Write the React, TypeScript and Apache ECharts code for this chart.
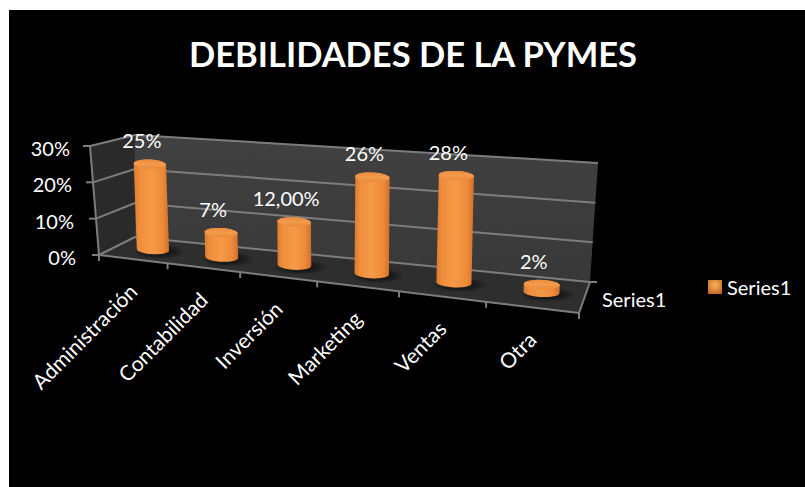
import React, { useEffect, useRef } from "react";
import * as echarts from "echarts";

const titleText = "DEBILIDADES DE LA PYMES";
const seriesName = "Series1";
const categories = ["Administración", "Contabilidad", "Inversión", "Marketing", "Ventas", "Otra"];
const shares = [0.25, 0.07, 0.12, 0.26, 0.28, 0.02];
const shareLabels = ["25%", "7%", "12,00%", "26%", "28%", "2%"];
const yMax = 0.3;
const yStep = 0.1;
const yTicks = [0, 0.1, 0.2, 0.3];
const yTickLabels = ["0%", "10%", "20%", "30%"];

// Corners of the perspective box the flat grid is projected onto.
const FLB = [99, 255];
const FRB = [579, 313];
const BLB = [135, 237];
const BRB = [590, 282];
const FLT = [90, 146];
const FRT = [582, 191];
const BLT = [135, 135];
const BRT = [598, 163];
const FORESHORTEN = 1.2;

const mix = (a: number[], b: number[], k: number) => [a[0] + (b[0] - a[0]) * k, a[1] + (b[1] - a[1]) * k];
const persp = (u: number) => u / (u + FORESHORTEN * (1 - u));

// u runs along the categories, d into the depth of the box, h up the value axis (all 0..1).
function project(u: number, d: number, h: number) {
  const t = persp(u);
  const bottom = mix(mix(FLB, FRB, t), mix(BLB, BRB, t), d);
  const top = mix(mix(FLT, FRT, t), mix(BLT, BRT, t), d);
  return mix(bottom, top, h);
}

const FONT = "Lato, Carlito, sans-serif";
const LABEL_SIZE = 20;
const SLOPE = 0.05;

function ellipsePoints(c: number[], rx: number, ry: number, from: number, to: number, n = 28) {
  const pts: number[][] = [];
  const cs = Math.cos(SLOPE);
  const sn = Math.sin(SLOPE);
  for (let i = 0; i <= n; i++) {
    const a = from + ((to - from) * i) / n;
    const x = rx * Math.cos(a);
    const y = ry * Math.sin(a);
    pts.push([c[0] + x * cs - y * sn, c[1] + x * sn + y * cs]);
  }
  return pts;
}

const gridLeft = 99;
const gridWidth = 480;
const gridTop = 147;
const gridHeight = 109;

const hGrad = (stops: [number, string][]) =>
  new echarts.graphic.LinearGradient(0, 0, 1, 0, stops.map(([offset, color]) => ({ offset, color })));
const vGrad = (stops: [number, string][]) =>
  new echarts.graphic.LinearGradient(0, 0, 0, 1, stops.map(([offset, color]) => ({ offset, color })));

const wallLine = { stroke: "#7d7d7d", lineWidth: 2 };

function line(a: number[], b: number[], style: object = wallLine) {
  return { type: "line", shape: { x1: a[0], y1: a[1], x2: b[0], y2: b[1] }, style };
}

// Walls, floor, gridlines, tick marks and tick labels of the box.
function renderFrame(params: any, api: any) {
  const cs = params.coordSys;
  const band = api.size([1, 0])[0];
  const firstCentre = api.coord([0, 0])[0];
  const children: any[] = [
    { type: "polygon", shape: { points: [FLB, BLB, BLT, FLT] }, style: { fill: "#2a2a2a" } },
    { type: "polygon", shape: { points: [BLB, BRB, BRT, BLT] }, style: { fill: vGrad([[0, "#414141"], [1, "#383838"]]) } },
    { type: "polygon", shape: { points: [FLB, FRB, BRB, BLB] }, style: { fill: "#2e2e2e" } },
  ];
  yTicks.forEach((v, i) => {
    const h = (cs.y + cs.height - api.coord([0, v])[1]) / cs.height;
    const front = project(0, 0, h);
    children.push(line(front, project(0, 1, h)));
    children.push(line(project(0, 1, h), project(1, 1, h)));
    children.push(line([front[0] - 7, front[1]], front));
    children.push({
      type: "text",
      x: front[0] - 20 - 3 * (1 - h),
      y: front[1] + 2,
      style: {
        text: yTickLabels[i],
        fill: "#fff",
        font: `${LABEL_SIZE}px ${FONT}`,
        align: "right",
        verticalAlign: "middle",
      },
    });
  });
  children.push(line(project(0, 0, 0), project(0, 0, 1)));
  children.push(line(FLB, FRB));
  children.push(line(FRB, BRB));
  children.push(line(BRB, [BRB[0] + 7, BRB[1]]));
  categories.forEach((_, i) => {
    const x = firstCentre + (i - 0.5) * band;
    const p = project((x - cs.x) / cs.width, 0, 0);
    children.push(line(p, [p[0], p[1] + 6]));
  });
  children.push(line(FRB, [FRB[0], FRB[1] + 6]));
  children.push({
    type: "text",
    x: 602,
    y: 299,
    style: { text: seriesName, fill: "#fff", font: `${LABEL_SIZE}px ${FONT}`, align: "left", verticalAlign: "middle" },
  });
  return { type: "group", children };
}

// One cylinder per category, with its value label and its slanted category name.
function renderCylinder(params: any, api: any) {
  const cs = params.coordSys;
  const i = api.value(0);
  const p = api.coord([i, api.value(1)]);
  const u = (p[0] - cs.x) / cs.width;
  const t = persp(u);
  const h = ((cs.y + cs.height - p[1]) / cs.height) * (0.96 + 0.04 * t);
  const nudge = 3;
  const rawBase = project(u, 0.5, 0);
  const rawTop = project(u, 0.5, h);
  const base = [rawBase[0] + nudge, rawBase[1]];
  const top = [rawTop[0] + nudge, rawTop[1]];
  const rx = 16 + 2.2 * t;
  const ry = 4.6;
  const bodyPoints = [
    ...ellipsePoints(base, rx, ry, Math.PI, 0),
    ...ellipsePoints(top, rx, ry, 0, -Math.PI),
  ];
  const front = project(u, 0, 0);
  return {
    type: "group",
    children: [
      {
        type: "ellipse",
        shape: { cx: base[0] + 6, cy: base[1] + 2, rx: rx + 10, ry: ry + 3 },
        style: {
          fill: new echarts.graphic.RadialGradient(0.5, 0.5, 0.5, [
            { offset: 0, color: "rgba(0,0,0,0.6)" },
            { offset: 0.6, color: "rgba(0,0,0,0.4)" },
            { offset: 1, color: "rgba(0,0,0,0)" },
          ]),
        },
      },
      {
        type: "polygon",
        shape: { points: bodyPoints },
        style: {
          fill: hGrad([
            [0, "#dd7a2e"],
            [0.14, "#ee8d3c"],
            [0.5, "#f59a48"],
            [0.82, "#ec8a38"],
            [1, "#d07029"],
          ]),
        },
      },
      {
        type: "polygon",
        shape: { points: ellipsePoints(top, rx, ry, 0, 2 * Math.PI) },
        style: { fill: vGrad([[0, "#ea8b3d"], [0.5, "#f39b4d"], [1, "#e88838"]]) },
      },
      {
        type: "text",
        x: top[0] - 8,
        y: top[1] - 24,
        style: {
          text: shareLabels[i],
          fill: "#fff",
          font: `${LABEL_SIZE}px ${FONT}`,
          align: "center",
          verticalAlign: "middle",
        },
      },
      {
        type: "text",
        x: front[0],
        y: front[1] + 28,
        rotation: Math.PI / 4,
        style: {
          text: categories[i],
          fill: "#fff",
          font: `21px ${FONT}`,
          align: "right",
          verticalAlign: "middle",
        },
      },
    ],
  };
}

export default function App() {
  const ref = useRef<HTMLDivElement>(null);
  useEffect(() => {
    const chart = echarts.init(ref.current!, undefined, { renderer: "svg" });
    chart.setOption({
      animation: false,
      backgroundColor: "#fff",
      graphic: [{ type: "rect", shape: { x: 9, y: 10, width: 796, height: 477 }, style: { fill: "#000" }, z: 0, silent: true }],
      title: {
        text: titleText,
        left: 408,
        top: 31,
        textAlign: "center",
        textStyle: { color: "#fff", fontFamily: FONT, fontWeight: "bold", fontSize: 34.5 },
      },
      legend: {
        left: 703,
        top: 272,
        itemWidth: 14,
        itemHeight: 14,
        itemGap: 0,
        data: [
          {
            name: seriesName,
            icon: "rect",
            itemStyle: {
              color: new echarts.graphic.RadialGradient(0.5, 0.35, 0.7, [
                { offset: 0, color: "#f9b45f" },
                { offset: 1, color: "#c2681f" },
              ]),
            },
          },
        ],
        textStyle: { color: "#fff", fontFamily: FONT, fontSize: LABEL_SIZE },
        selectedMode: false,
      },
      grid: { left: gridLeft, top: gridTop, width: gridWidth, height: gridHeight },
      xAxis: { type: "category", data: categories, show: false },
      yAxis: { type: "value", min: 0, max: yMax, interval: yStep, show: false },
      series: [
        {
          type: "custom",
          name: "frame",
          silent: true,
          z: 1,
          renderItem: renderFrame,
          data: [[0, 0]],
        },
        {
          type: "custom",
          name: seriesName,
          silent: true,
          z: 2,
          renderItem: renderCylinder,
          data: shares.map((v, i) => [i, v]),
        },
      ],
    });
    return () => chart.dispose();
  }, []);
  return (
    <div
      ref={ref}
      style={{ position: "fixed", left: 0, top: 0, width: 805, height: 487 }}
    />
  );
}
